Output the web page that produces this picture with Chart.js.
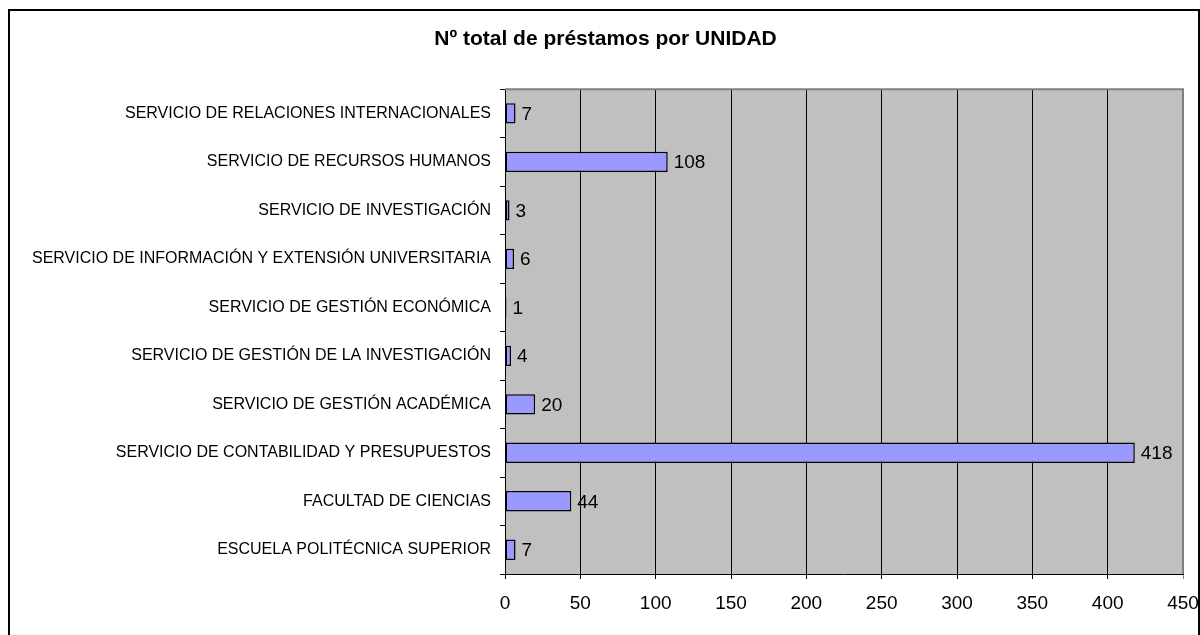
<!DOCTYPE html>
<html>
<head>
<meta charset="utf-8">
<script src="https://cdn.jsdelivr.net/npm/chart.js@4/dist/chart.umd.min.js"></script>
<style>
  body { margin: 0; overflow: hidden; background: #fff; }
  #wrap { position: relative; width: 1200px; height: 635px; }
  #frame {
    position: absolute; left: 8px; top: 9px; width: 1192px; height: 700px;
    border: 2px solid #000; box-sizing: border-box; pointer-events: none;
  }
</style>
</head>
<body>
<div id="wrap">
  <canvas id="loansChart" width="1200" height="635"></canvas>
  <div id="frame"></div>
</div>
<script>
// Units, listed top to bottom as they appear in the chart
var units = [
    'SERVICIO DE RELACIONES INTERNACIONALES',
    'SERVICIO DE RECURSOS HUMANOS',
    'SERVICIO DE INVESTIGACIÓN',
    'SERVICIO DE INFORMACIÓN Y EXTENSIÓN UNIVERSITARIA',
    'SERVICIO DE GESTIÓN ECONÓMICA',
    'SERVICIO DE GESTIÓN DE LA INVESTIGACIÓN',
    'SERVICIO DE GESTIÓN ACADÉMICA',
    'SERVICIO DE CONTABILIDAD Y PRESUPUESTOS',
    'FACULTAD DE CIENCIAS',
    'ESCUELA POLITÉCNICA SUPERIOR'
];
var loans = [7, 108, 3, 6, 1, 4, 20, 418, 44, 7];
var xMax = 450;
var xStep = 50;

// gray plot background + gray top/right frame
var plotBackground = {
    id: 'plotBackground',
    beforeDraw: function(chart) {
        var a = chart.chartArea, c = chart.ctx;
        c.save();
        c.fillStyle = '#C0C0C0';
        c.fillRect(a.left, a.top, a.right - a.left, a.bottom - a.top);
        c.restore();
    },
    afterDraw: function(chart) {
        var a = chart.chartArea, c = chart.ctx;
        c.save();
        c.strokeStyle = '#808080';
        c.lineWidth = 2;
        c.beginPath();
        c.moveTo(a.left, a.top);
        c.lineTo(a.right, a.top);
        c.lineTo(a.right, a.bottom);
        c.stroke();
        c.restore();
    }
};

// value labels to the right of each bar
var barLabels = {
    id: 'barLabels',
    afterDatasetsDraw: function(chart) {
        var c = chart.ctx;
        var meta = chart.getDatasetMeta(0);
        c.save();
        c.font = '19px "Liberation Sans", Arial, sans-serif';
        c.fillStyle = '#000';
        c.textAlign = 'left';
        c.textBaseline = 'middle';
        meta.data.forEach(function(bar, i) {
            c.fillText(String(loans[i]), bar.x + 6, bar.y + 1);
        });
        c.restore();
    }
};

var ctx = document.getElementById('loansChart').getContext('2d');
var loansChart = new Chart(ctx, {
    type: 'bar',
    data: {
        labels: units,
        datasets: [{
            data: loans,
            backgroundColor: '#9999FF',
            borderColor: '#000',
            borderWidth: 1.5,
            borderSkipped: false,
            categoryPercentage: 1,
            barPercentage: 0.42
        }]
    },
    options: {
        indexAxis: 'y',
        responsive: false,
        animation: false,
        devicePixelRatio: 1,
        layout: { padding: { left: 28, right: 17, top: 0, bottom: 0 } },
        plugins: {
            legend: { display: false },
            tooltip: { enabled: false },
            title: {
                display: true,
                text: 'Nº total de préstamos por UNIDAD',
                color: '#000',
                font: { family: '"Liberation Sans", Arial, sans-serif', size: 21, weight: 'bold' },
                padding: { top: 27, bottom: 37 }
            }
        },
        scales: {
            x: {
                min: 0,
                max: xMax,
                afterFit: function(scale) {
                    scale.height = 61;
                    scale.paddingLeft = 0;
                    scale.paddingRight = 0;
                },
                ticks: {
                    stepSize: xStep,
                    color: '#000',
                    padding: 13,
                    font: { family: '"Liberation Sans", Arial, sans-serif', size: 19 }
                },
                grid: {
                    color: function(c) { return c.tick && c.tick.value === xMax ? '#808080' : '#000'; },
                    lineWidth: 1,
                    tickLength: 5
                },
                border: { color: '#000', width: 1 }
            },
            y: {
                afterFit: function(scale) { scale.width = 505 - 28; },
                ticks: {
                    color: '#000',
                    padding: 9,
                    autoSkip: false,
                    font: { family: '"Liberation Sans", Arial, sans-serif', size: 16 }
                },
                grid: {
                    drawOnChartArea: false,
                    color: '#000',
                    tickLength: 5,
                    offset: true
                },
                border: { color: '#000', width: 1 }
            }
        }
    },
    plugins: [plotBackground, barLabels]
});
</script>
</body>
</html>
